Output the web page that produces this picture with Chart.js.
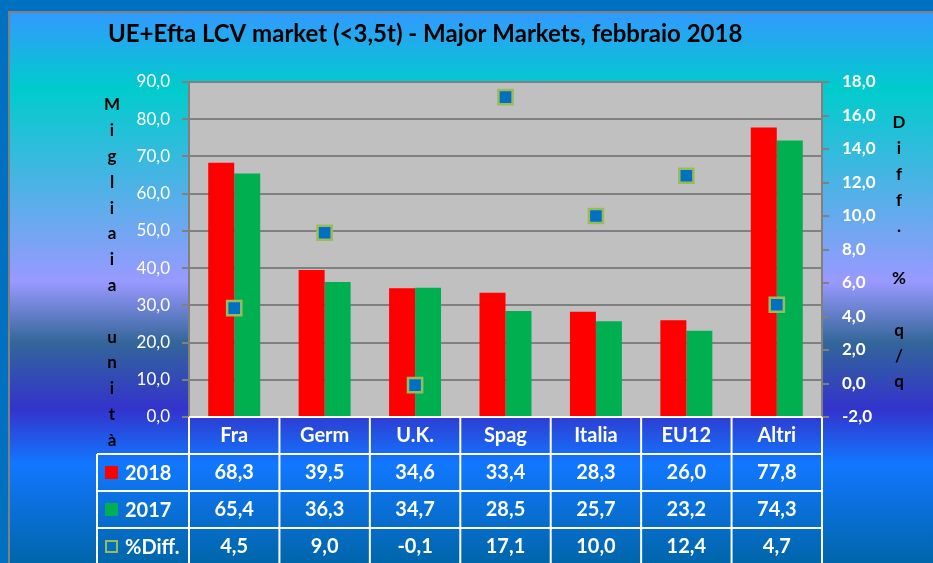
<!DOCTYPE html>
<html>
<head>
<meta charset="utf-8">
<script src="https://cdn.jsdelivr.net/npm/chart.js@4.4.1/dist/chart.umd.min.js"></script>
<style>
  html, body { margin: 0; padding: 0; background: #0070C0; }
  canvas { display: block; }
</style>
</head>
<body>
<canvas id="grafico" width="933" height="563"></canvas>
<script>
// dati
const categorie = ['Fra', 'Germ', 'U.K.', 'Spag', 'Italia', 'EU12', 'Altri'];
const vendite2018 = [68.3, 39.5, 34.6, 33.4, 28.3, 26.0, 77.8];
const vendite2017 = [65.4, 36.3, 34.7, 28.5, 25.7, 23.2, 74.3];
const diffPerc = [4.5, 9.0, -0.1, 17.1, 10.0, 12.4, 4.7];
const etichetteSerie = ['2018', '2017', '%Diff.'];
const titoloSx = ['M', 'i', 'g', 'l', 'i', 'a', 'i', 'a', '', 'u', 'n', 'i', 't', 'à'];
const titoloDx = ['D', 'i', 'f', 'f', '.', '', '%', '', 'q', '/', 'q'];

const ROSSO = '#FF0000';
const VERDE = '#00B050';
const BLU = '#0070C0';
const BORDO_PUNTO = '#9BBB59';
const FONT = 'Lato';

function fmt(v) {
    return Number(v).toFixed(1).replace('.', ',');
}

// sfondo sfumato + area del grafico grigia
const sfondo = {
    id: 'sfondo',
    beforeDraw(chart) {
        const ctx = chart.ctx;
        const a = chart.chartArea;
        ctx.save();
        ctx.fillStyle = BLU;
        ctx.fillRect(0, 0, chart.width, chart.height);
        const g = ctx.createLinearGradient(0, 12, 0, chart.height);
        g.addColorStop(0, '#3399FF');
        g.addColorStop(0.14, '#00CCCC');
        g.addColorStop(0.49, '#9999FF');
        g.addColorStop(0.60, '#336699');
        g.addColorStop(0.72, '#3333CC');
        g.addColorStop(0.82, '#1177FF');
        g.addColorStop(1, '#0066AA');
        ctx.fillStyle = g;
        ctx.fillRect(9, 12, chart.width - 9, chart.height - 12);
        ctx.strokeStyle = '#808080';
        ctx.lineWidth = 2;
        ctx.beginPath();
        ctx.moveTo(9, chart.height);
        ctx.lineTo(9, 12);
        ctx.lineTo(chart.width, 12);
        ctx.stroke();
        ctx.fillStyle = '#C0C0C0';
        ctx.fillRect(a.left, a.top, a.right - a.left, a.bottom - a.top);
        ctx.restore();
    }
};

// tabella dati sotto il grafico e titoli assi in verticale
const tabella = {
    id: 'tabella',
    afterDraw(chart) {
        const ctx = chart.ctx;
        const a = chart.chartArea;
        const n = categorie.length;
        const larg = (a.right - a.left) / n;
        const altRiga = 37;
        const top = a.bottom;
        const fondo = chart.height + 5;
        const xLeg = 97;
        const serie = [vendite2018, vendite2017, diffPerc];

        ctx.save();
        ctx.strokeStyle = '#FFFFFF';
        ctx.lineWidth = 2;
        ctx.beginPath();
        ctx.moveTo(a.left, top);
        ctx.lineTo(a.right, top);
        for (let r = 1; r <= 3; r++) {
            ctx.moveTo(xLeg, top + altRiga * r);
            ctx.lineTo(a.right, top + altRiga * r);
        }
        for (let i = 0; i <= n; i++) {
            ctx.moveTo(a.left + larg * i, top);
            ctx.lineTo(a.left + larg * i, fondo);
        }
        ctx.moveTo(xLeg, top + altRiga);
        ctx.lineTo(xLeg, fondo);
        ctx.stroke();

        ctx.fillStyle = '#FFFFFF';
        ctx.font = 'bold 20px ' + FONT;
        ctx.textAlign = 'center';
        ctx.textBaseline = 'middle';
        categorie.forEach((c, i) => {
            const x = chart.scales.x.getPixelForValue(i);
            ctx.fillText(c, x, top + altRiga / 2);
            serie.forEach((s, r) => {
                ctx.fillText(fmt(s[i]), x, top + altRiga * (r + 1.5));
            });
        });

        // legenda
        const colori = [ROSSO, VERDE, BLU];
        etichetteSerie.forEach((lab, r) => {
            const y = top + altRiga * (r + 1.5);
            ctx.fillStyle = colori[r];
            ctx.fillRect(105, y - 6.5, 13, 13);
            if (r === 2) {
                ctx.strokeStyle = BORDO_PUNTO;
                ctx.lineWidth = 2;
                ctx.strokeRect(106, y - 5.5, 11, 11);
            }
            ctx.fillStyle = '#FFFFFF';
            ctx.textAlign = 'left';
            ctx.fillText(lab, 125, y + 1);
        });

        // titoli assi
        ctx.fillStyle = '#000000';
        ctx.font = 'bold 17px ' + FONT;
        ctx.textAlign = 'center';
        titoloSx.forEach((l, k) => ctx.fillText(l, 112, 105 + k * 25.8));
        titoloDx.forEach((l, k) => ctx.fillText(l, 899, 123 + k * 25.9));
        ctx.restore();
    }
};

new Chart(document.getElementById('grafico'), {
    type: 'bar',
    data: {
        labels: categorie,
        datasets: [{
            label: etichetteSerie[0],
            data: vendite2018,
            backgroundColor: ROSSO,
            yAxisID: 'y',
            order: 1
        }, {
            label: etichetteSerie[1],
            data: vendite2017,
            backgroundColor: VERDE,
            yAxisID: 'y',
            order: 1
        }, {
            type: 'line',
            label: etichetteSerie[2],
            data: diffPerc,
            yAxisID: 'y2',
            showLine: false,
            pointStyle: 'rect',
            pointRadius: 10,
            pointHoverRadius: 10,
            pointBackgroundColor: BLU,
            pointBorderColor: BORDO_PUNTO,
            pointBorderWidth: 2.5,
            order: 0
        }]
    },
    options: {
        responsive: false,
        animation: false,
        events: [],
        datasets: {
            bar: {
                categoryPercentage: 0.575,
                barPercentage: 1.0
            }
        },
        layout: {
            padding: { top: 0, left: 108, right: 0, bottom: 146 }
        },
        plugins: {
            legend: { display: false },
            tooltip: { enabled: false },
            title: {
                display: true,
                text: 'UE+Efta LCV market (<3,5t) - Major Markets, febbraio 2018',
                align: 'start',
                color: '#000000',
                font: { family: FONT, size: 24, weight: 'bold' },
                padding: { top: 20, bottom: 33.2 }
            }
        },
        scales: {
            x: {
                display: false
            },
            y: {
                position: 'left',
                min: 0,
                max: 90,
                afterFit: (s) => { s.width = 81; },
                ticks: {
                    stepSize: 10,
                    padding: 12,
                    color: '#FFFFFF',
                    font: { family: FONT, size: 17 },
                    callback: (v) => fmt(v)
                },
                grid: {
                    color: '#808080',
                    lineWidth: 2,
                    tickLength: 7
                },
                border: { color: '#808080', width: 2 }
            },
            y2: {
                position: 'right',
                min: -2,
                max: 18,
                afterFit: (s) => { s.width = 111; },
                ticks: {
                    stepSize: 2,
                    padding: 13,
                    color: '#FFFFFF',
                    font: { family: FONT, size: 17, weight: 'bold' },
                    callback: (v) => fmt(v)
                },
                grid: {
                    drawOnChartArea: false,
                    color: '#808080',
                    lineWidth: 2,
                    tickLength: 7
                },
                border: { color: '#808080', width: 2 }
            }
        }
    },
    plugins: [sfondo, tabella]
});
</script>
</body>
</html>
